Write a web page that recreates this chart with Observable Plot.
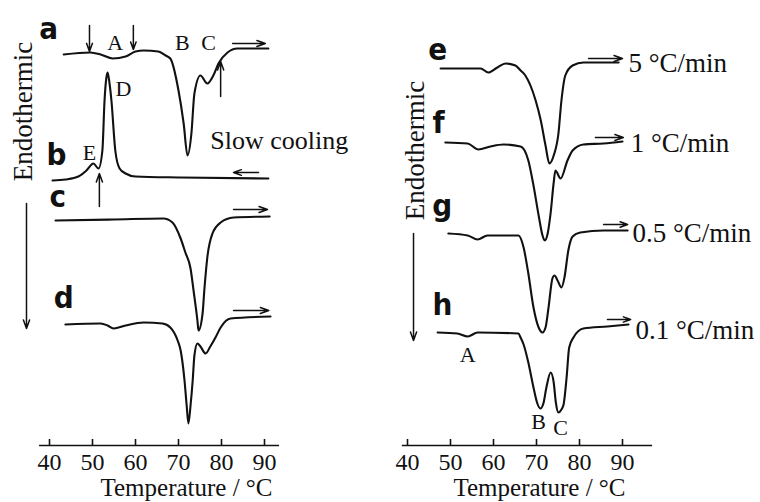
<!DOCTYPE html>
<html><head><meta charset="utf-8">
<script src="https://cdn.jsdelivr.net/npm/d3@7"></script>
<script src="https://cdn.jsdelivr.net/npm/@observablehq/plot@0.6"></script>
<style>
html,body{margin:0;padding:0;background:#fff;}
#chart{position:relative;width:760px;height:502px;overflow:hidden;background:#fff;}
#chart svg{position:absolute;top:0;overflow:visible;}
</style></head><body><div id="chart"></div>
<script>
// ---- tick labels (temperature, °C)
const tickValues = [40, 50, 60, 70, 80, 90];

// ---- DSC traces: temperature (°C) and endothermic deflection (a.u., + = endothermic, drawn downward)
const curveNames = ["a", "b", "c", "d", "e", "f", "g", "h"];
const curveOffsets = [54, 180, 220, 324, 68, 142, 233, 332];

const aT = [43.3, 49.5, 51.9, 54.7, 57.7, 60.0, 61.9, 65.3, 67.0, 68.1, 70.0, 71.2, 72.1, 73.0, 73.7, 75.1, 76.7, 78.1, 79.3, 81.4, 83.7, 90.9];
const aS = [0, -2, 0, 4, 2, -3, -4, -3, 1, 4, 36, 69, 101, 79, 39, 21, 29, 21, 9, -2, -6, -6];

const bT = [40.7, 43.7, 46.7, 48.6, 50.2, 51.4, 52.3, 52.8, 53.2, 53.5, 53.8, 54.4, 55.3, 56.3, 57.7, 60.0, 70.5, 90.9];
const bS = [0, -1, -4, -10, -17, -12, -30, -80, -102, -108, -102, -80, -30, -12, -7, -4, -3, -2];

const cT = [41.4, 55.0, 66.5, 68.6, 70.5, 71.6, 72.8, 73.5, 74.4, 74.65, 75.6, 76.0, 76.7, 77.9, 79.8, 82.8, 91.2];
const cS = [0, -1, -2, 2, 18, 32, 48, 70, 100, 110, 93, 70, 37, 13, 2, -3, -4];

const dT = [43.7, 51.9, 53.5, 54.9, 57.7, 61.9, 66.3, 68.1, 69.8, 70.5, 71.4, 71.9, 72.3, 72.8, 73.3, 73.7, 74.4, 75.1, 76.3, 77.4, 78.6, 79.8, 82.1, 91.4];
const dS = [0, -1, 1, 4, 1, -2, -1, 3, 16, 26, 56, 81, 99, 81, 56, 31, 19, 22, 29, 22, 13, 3, -6, -8];

const eT = [47.7, 57.0, 58.8, 60.9, 62.8, 65.1, 66.3, 67.4, 69.8, 71.0, 72.1, 73.0, 74.0, 75.1, 75.8, 76.7, 78.4, 80.9, 89.1];
const eS = [0, 0, 4, -1, -5, -3, 2, 7, 32, 52, 77, 95, 87, 65, 32, 7, -3, -6, -6];

const fT = [48.8, 54.0, 56.5, 59.3, 62.3, 66.3, 68.1, 69.3, 70.5, 71.4, 71.9, 72.6, 73.3, 74.0, 74.4, 75.6, 77.2, 78.4, 80.9, 85.6, 90.0];
const fS = [0, 1, 7, 4, 2, 4, 18, 43, 73, 93, 98, 91, 70, 40, 28, 36, 18, 8, 2, 1, -1];

const gT = [49.5, 54.0, 56.3, 58.6, 65.8, 67.0, 68.1, 69.3, 70.5, 71.4, 72.1, 72.8, 73.7, 74.2, 74.9, 75.8, 76.5, 77.4, 78.4, 80.2, 85.6, 91.2];
const gS = [0, 2, 6, 2, 2, 14, 40, 74, 94, 99, 94, 74, 45, 42, 47, 54, 44, 17, 3, -1, -3, -3];

const hT = [47.0, 51.6, 54.0, 56.3, 65.8, 66.3, 67.0, 68.1, 69.3, 70.2, 70.9, 71.6, 72.3, 73.3, 74.0, 74.5, 75.1, 75.8, 76.3, 77.0, 77.6, 78.6, 80.9, 86.5, 91.4];
const hS = [0, 1, 4, 0, 1, 5, 12, 30, 55, 71, 76, 71, 55, 40, 50, 70, 80, 77, 72, 45, 15, 5, -4, -6, -8];

// ---- heating / cooling rate labels (right panel)
const rateLabels = ["5 °C/min", "1 °C/min", "0.5 °C/min", "0.1 °C/min"];

// ---- annotation placement tables
const axisLevel = 445;
const tickLabelLevel = 462;
const leftAxisExtent = [37.7, 93.5];
const rightAxisExtent = [38.8, 97.0];

const leftCurveLetters = {text: ["a", "b", "c", "d"], T: [39.8, 41.6, 41.9, 43.3], y: [29, 155, 197, 298]};
const rightCurveLetters = {text: ["e", "f", "g", "h"], T: [47.0, 47.2, 48.1, 48.1], y: [50, 123, 206, 305]};
const leftPeakLabels = {text: ["A", "B", "C", "E", "D"], T: [55.3, 70.9, 77.0, 49.3, 57.2], y: [42, 42, 42, 152, 88]};
const rightPeakLabels = {text: ["A", "B", "C"], T: [54.0, 70.5, 75.6], y: [354, 421, 427]};
const rateLabelPos = {T: [91.4, 91.9, 92.3, 93.0], y: [63, 143, 233, 330]};
const leftArrows = {T1: [49.3, 59.5, 79.8, 51.6, 82.6, 88.6, 82.8, 82.8, 34.65], T2: [49.3, 59.5, 79.8, 51.6, 90.2, 82.8, 90.7, 91.0, 34.65],
                    y1: [25, 25, 96, 206, 43, 172, 209, 310, 203], y2: [51, 49, 61, 173, 43, 172, 209, 310, 328]};
const rightArrows = {T1: [82.1, 83.7, 85.6, 86.5, 41.4], T2: [90.0, 90.2, 91.2, 91.9, 41.4],
                     y1: [58, 137, 224, 319, 233], y2: [58, 137, 224, 319, 340]};

const serif = "'Liberation Serif', 'Times New Roman', Times, serif";
const heavy = "'DejaVu Sans Condensed', 'Liberation Sans Narrow', 'DejaVu Sans', sans-serif";

const curveT = [aT, bT, cT, dT, eT, fT, gT, hT];
const curveS = [aS, bS, cS, dS, eS, fS, gS, hS];
function rowsFor(names) {
  const rows = [];
  names.forEach(n => {
    const i = curveNames.indexOf(n);
    curveT[i].forEach((t, j) => rows.push({curve: n, T: t, y: curveOffsets[i] + curveS[i][j]}));
  });
  return rows;
}
const table = o => o.text.map((t, i) => ({text: t, T: o.T[i], y: o.y[i]}));
const arrowRows = o => o.T1.map((t, i) => ({x1: t, x2: o.T2[i], y1: o.y1[i], y2: o.y2[i]}));

function panel({names, xRange, extent, letters, peaks, arrows, endoPos, extra, labelMarginRight}) {
  return Plot.plot({
    width: 380, height: 502,
    marginTop: 0, marginLeft: 0, marginRight: labelMarginRight, marginBottom: 502 - axisLevel,
    x: {domain: [40, 90], range: xRange, axis: null},
    y: {domain: [0, 502], range: [0, 502], axis: null},
    style: {background: "transparent", color: "#111", fontFamily: serif},
    marks: [
      Plot.ruleY([axisLevel], {x1: extent[0], x2: extent[1], stroke: "#111", strokeWidth: 1.6}),
      Plot.ruleX(tickValues, {y1: axisLevel - 6, y2: axisLevel, stroke: "#111", strokeWidth: 1.6}),
      Plot.text(tickValues, {x: d => d, y: tickLabelLevel, text: d => String(d), fontSize: 24, fontFamily: serif}),
      Plot.text(["Temperature / °C"], {frameAnchor: "bottom", dy: 50, fontSize: 25, fontFamily: serif}),
      Plot.line(rowsFor(names), {x: "T", y: "y", z: "curve", curve: "monotone-x", stroke: "#111", strokeWidth: 2.1}),
      Plot.arrow(arrowRows(arrows), {x1: "x1", y1: "y1", x2: "x2", y2: "y2", stroke: "#111", strokeWidth: 1.5, headLength: 9, headAngle: 40}),
      Plot.text(table(letters), {x: "T", y: "y", text: "text", fontSize: 31, fontWeight: "bold", fontFamily: heavy}),
      Plot.text(table(peaks), {x: "T", y: "y", text: "text", fontSize: 22, fontFamily: serif}),
      Plot.text(["Endothermic"], {x: endoPos[0], y: endoPos[1], rotate: -90, fontSize: 27, fontFamily: serif}),
      ...extra
    ]
  });
}

const chart = document.getElementById("chart");
const left = panel({
  names: ["a", "b", "c", "d"], xRange: [49, 264], extent: leftAxisExtent,
  letters: leftCurveLetters, peaks: leftPeakLabels, arrows: leftArrows, endoPos: [33.95, 111], labelMarginRight: 8,
  extra: [Plot.text(["Slow cooling"], {x: 77.4, y: 140, textAnchor: "start", fontSize: 26, fontFamily: serif})]
});
const right = panel({
  names: ["e", "f", "g", "h"], xRange: [27, 242], extent: rightAxisExtent,
  letters: rightCurveLetters, peaks: rightPeakLabels, arrows: rightArrows, endoPos: [41.9, 150], labelMarginRight: 62,
  extra: [Plot.text(table({text: rateLabels, T: rateLabelPos.T, y: rateLabelPos.y}), {x: "T", y: "y", text: "text", textAnchor: "start", fontSize: 27, fontFamily: serif})]
});
left.style.left = "0px";
right.style.left = "380px";
chart.append(left, right);
</script></body></html>
